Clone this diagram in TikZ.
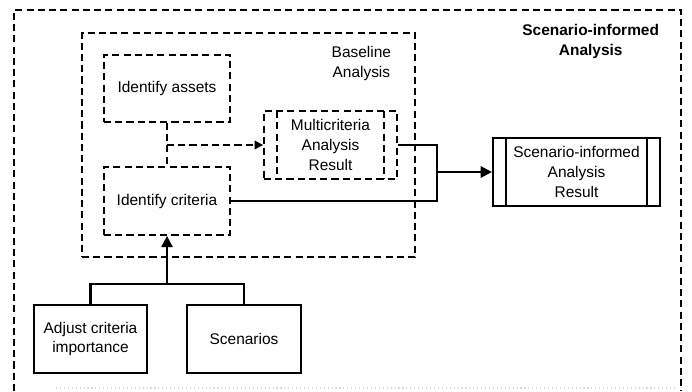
\documentclass[tikz,border=0pt]{standalone}
\usepackage{fontspec}
\setmainfont{Liberation Sans}
\usepackage{tikz}
\usetikzlibrary{shapes, arrows.meta, positioning, calc}

\tikzset{
  every node/.style={font=\fontsize{11}{13.9}\selectfont},
  dashline/.style={dash pattern=on 5pt off 3pt, line width=1.3pt},
  dashbox/.style={draw, dashline, align=center, minimum height=1.7cm},
  solidbox/.style={draw, line width=1.5pt, align=center, minimum height=1.7cm},
  procbox/.style={path picture={
      \draw[#1] ([xshift=0.33cm]path picture bounding box.north west) -- ([xshift=0.33cm]path picture bounding box.south west);
      \draw[#1] ([xshift=-0.33cm]path picture bounding box.north east) -- ([xshift=-0.33cm]path picture bounding box.south east);
  }},
  flow/.style={line width=1.5pt},
}

\begin{document}
\begin{tikzpicture}
  \useasboundingbox (0,0) rectangle (17.3,-9.775);

  % Outer frame (bottom edge cut off)
  \draw[dashline] (0.35,-9.775) -- (0.35,-0.25) -- (17.025,-0.25) -- (17.025,-9.775);
  \draw[black!15, dotted, line width=0.8pt] (1.4,-9.7) -- (16.9,-9.7);
  \node[font=\fontsize{11}{13.9}\selectfont\bfseries, align=center, anchor=east] (outerlbl) at (16.6, -1.0375) {Scenario-informed\\Analysis};

  % Baseline container
  \node[draw, dashline, minimum width=8.325cm, minimum height=5.6cm] (baseline) at (6.2125, -3.625) {};
  \node[align=center, anchor=east] (baselbl) at (9.9, -1.5875) {Baseline\\Analysis};

  % Steps
  \node[dashbox, minimum width=3.15cm, minimum height=1.675cm] (assets) at (4.175, -2.2125) {Identify assets};
  \node[dashbox, minimum width=3.15cm] (criteria) at (4.175, -5.025) {Identify criteria};
  \node[dashbox, procbox={dashline}, minimum width=3.325cm] (mca) at (8.2625, -3.625) {Multicriteria\\Analysis\\Result};
  \node[solidbox, procbox={line width=1.5pt}, minimum width=4.175cm] (result) at (14.4125, -4.3) {Scenario-informed\\Analysis\\Result};

  % Inputs
  \node[solidbox, minimum width=2.825cm] (adjust) at (2.2625, -8.475) {Adjust criteria\\importance};
  \node[solidbox, minimum width=2.85cm] (scen) at (6.1, -8.475) {Scenarios};

  % Connectors
  \draw[dashline] (assets.south) -- (criteria.north);
  \draw[dashline, -{Triangle[length=6pt, width=6pt]}] (assets.south |- mca.west) -- (mca.west);

  \coordinate (merge) at (10.925, -4.3);
  \draw[flow] (mca.east) -| (merge);
  \draw[flow] (criteria.east) -| (merge);
  \draw[flow, -{Triangle[length=8pt, width=8pt]}] (merge) -- (result.west);

  \coordinate (fork) at (4.175, -7.1);
  \draw[flow] (adjust.north) |- (fork) -| (scen.north);
  \draw[flow, -{Triangle[length=8pt, width=8pt]}] (fork) -- (criteria.south);
\end{tikzpicture}
\end{document}
